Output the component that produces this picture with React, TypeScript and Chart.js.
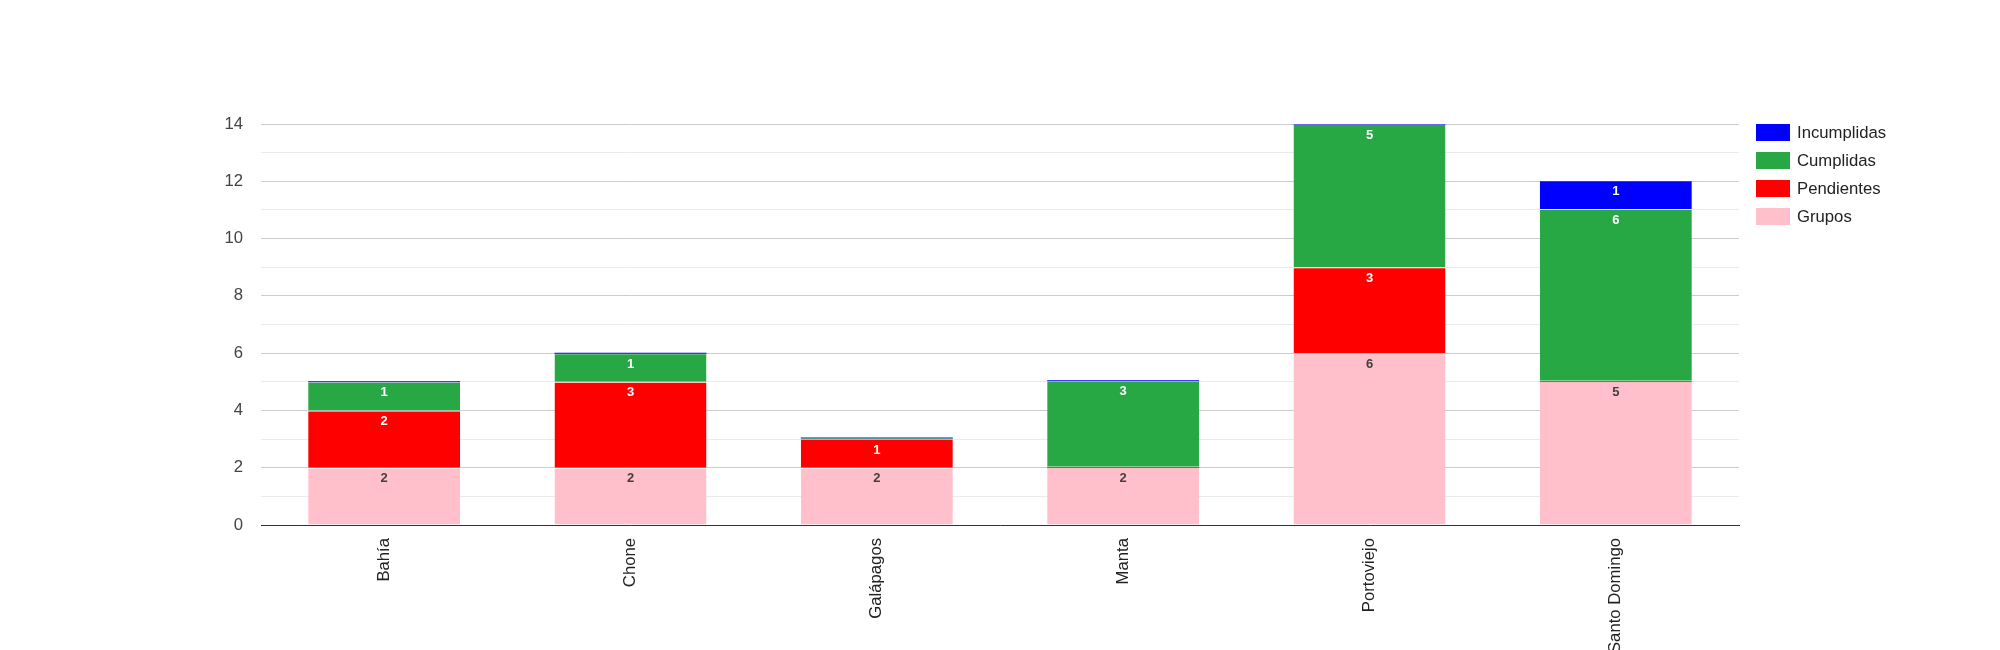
import { useEffect, useRef } from "react";
import { Chart, registerables } from "chart.js";
import type { Plugin } from "chart.js";

Chart.register(...registerables);

const oficinas = ["Bahía", "Chone", "Galápagos", "Manta", "Portoviejo", "Santo Domingo"];
const grupos = [2, 2, 2, 2, 6, 5];
const pendientes = [2, 3, 1, 0, 3, 0];
const cumplidas = [1, 1, 0, 3, 5, 6];
const incumplidas = [0, 0, 0, 0, 0, 1];

const series = [
  { label: "Grupos", data: grupos, color: "#ffc0cb", text: "#404040" },
  { label: "Pendientes", data: pendientes, color: "#ff0000", text: "#ffffff" },
  { label: "Cumplidas", data: cumplidas, color: "#28a745", text: "#ffffff" },
  { label: "Incumplidas", data: incumplidas, color: "#0000ff", text: "#ffffff" },
];

const FONT = "Arial, 'Liberation Sans', sans-serif";

// value labels just under the top of every segment
const barLabels: Plugin<"bar"> = {
  id: "barLabels",
  afterDatasetsDraw(chart) {
    const { ctx } = chart;
    ctx.save();
    ctx.font = `bold 13px ${FONT}`;
    ctx.textAlign = "center";
    ctx.textBaseline = "middle";
    chart.data.datasets.forEach((ds, i) => {
      const meta = chart.getDatasetMeta(i);
      meta.data.forEach((bar, j) => {
        const v = ds.data[j] as number;
        if (!v) return;
        ctx.fillStyle = series[i].text;
        ctx.fillText(String(v), bar.x, bar.y + 11);
      });
    });
    ctx.restore();
  },
};

export default function App() {
  const canvasRef = useRef<HTMLCanvasElement>(null);
  const chartRef = useRef<Chart | null>(null);

  useEffect(() => {
    document.body.style.margin = "0";
    document.body.style.overflow = "hidden";
    if (!canvasRef.current) return;

    chartRef.current = new Chart(canvasRef.current, {
      type: "bar",
      data: {
        labels: oficinas,
        datasets: series.map((s) => ({
          label: s.label,
          data: s.data,
          backgroundColor: s.color,
          borderColor: "rgba(0,0,0,0)",
          borderWidth: (c: any) => (c.raw === 0 ? 0 : { top: 1, left: 0, right: 0, bottom: 0 }),
          borderSkipped: false,
          minBarLength: 1,
          barPercentage: 0.617,
          categoryPercentage: 1,
        })),
      },
      options: {
        animation: false,
        responsive: false,
        maintainAspectRatio: false,
        layout: { padding: { top: 124, right: 261, left: 0, bottom: 0 } },
        plugins: {
          legend: { display: false },
          tooltip: { enabled: false },
        },
        scales: {
          x: {
            stacked: true,
            grid: { display: false, drawTicks: false },
            border: { display: true, color: "#333333", width: 1 },
            ticks: {
              minRotation: 90,
              maxRotation: 90,
              padding: 13,
              color: "#222222",
              font: { family: FONT, size: 16.7 },
            },
            afterFit: (scale) => {
              scale.height = 125;
            },
          },
          y: {
            stacked: true,
            min: 0,
            max: 14,
            grid: {
              drawTicks: false,
              color: (c: any) => (c.tick.value % 2 === 0 ? "#cccccc" : "#ebebeb"),
            },
            border: { display: false },
            ticks: {
              stepSize: 1,
              padding: 18,
              color: "#444444",
              font: { family: FONT, size: 16.7 },
              callback: (v) => ((v as number) % 2 === 0 ? String(v) : ""),
            },
            afterFit: (scale) => {
              scale.width = 261;
            },
          },
        },
      },
      plugins: [barLabels],
    });

    return () => {
      if (chartRef.current) chartRef.current.destroy();
    };
  }, []);

  return (
    <div style={{ position: "relative", width: 2000, height: 650, background: "#fff" }}>
      <canvas ref={canvasRef} width={2000} height={650} />
      <div style={{ position: "absolute", left: 1756, top: 124, fontFamily: FONT, fontSize: 16.7, color: "#222" }}>
        {[...series].reverse().map((s) => (
          <div key={s.label} style={{ display: "flex", alignItems: "center", height: 17, marginBottom: 11 }}>
            <span style={{ width: 34, height: 17, background: s.color, display: "inline-block", marginRight: 7 }} />
            <span>{s.label}</span>
          </div>
        ))}
      </div>
    </div>
  );
}
